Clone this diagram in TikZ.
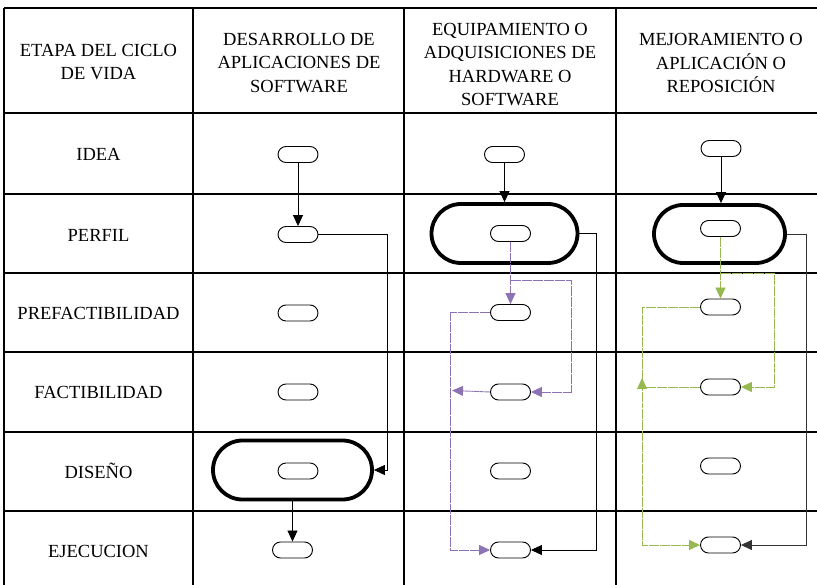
\documentclass[tikz,border=0pt]{standalone}
\usepackage{fontspec}
\setmainfont{Liberation Serif}
\usetikzlibrary{arrows.meta,shapes.misc}

\begin{document}
\begin{tikzpicture}[x=1pt,y=-1pt,
  cell/.style={font=\fontsize{18.5}{23.3}\selectfont, align=center, inner sep=0pt}, % Text of the table
  term/.style={draw, rounded rectangle, minimum width=40pt, minimum height=16pt, inner sep=0pt, line width=0.9pt}, % Small terminator
  bigTerm/.style={draw, rounded rectangle, line width=3.8pt, inner sep=0pt}, % Thick terminator of the active stage
  gridLine/.style={line width=1.4pt},
  flow/.style={-{Triangle[length=11pt,width=10pt]}, line width=0.8pt},
  purpleFlow/.style={flow, draw=flowPurple, line width=0.9pt, dash pattern=on 5pt off 0.5pt},
  greenFlow/.style={flow, draw=flowGreen, line width=0.9pt, dash pattern=on 5pt off 0.5pt}
]

% Define colors for the connectors
\definecolor{flowPurple}{RGB}{140,115,180} % Purple for hardware / software
\definecolor{flowGreen}{RGB}{150,185,80}   % Green for improvement

\useasboundingbox (0,0) rectangle (817,585);

% Grid of the table
\foreach \y in {8,113,194,273,352,432,511}
  \draw[gridLine] (4,\y) -- (817,\y);
\foreach \x in {4,193,404,616}
  \draw[gridLine] (\x,8) -- (\x,585);

% Header row
\node[cell] (hStage) at (98.5,62)  {ETAPA DEL CICLO\\DE VIDA};
\node[cell] (hSoft)  at (299,63)   {DESARROLLO DE\\APLICACIONES DE\\SOFTWARE};
\node[cell] (hHard)  at (510,64.5) {EQUIPAMIENTO O\\ADQUISICIONES DE\\HARDWARE O\\SOFTWARE};
\node[cell] (hImpr)  at (721,63)   {MEJORAMIENTO O\\APLICACIÓN O\\REPOSICIÓN};

% Stage names
\node[cell] (rIdea) at (98.5,154) {IDEA};
\node[cell] (rPerf) at (98.5,235) {PERFIL};
\node[cell] (rPref) at (98.5,313) {PREFACTIBILIDAD};
\node[cell] (rFact) at (98.5,392) {FACTIBILIDAD};
\node[cell] (rDise) at (98.5,471) {DISEÑO};
\node[cell] (rEjec) at (98.5,551) {EJECUCION};

% Column 1: software development
\node[term] (aIdea) at (298,154.5) {};
\node[term] (aPerf) at (298,234.5) {};
\node[term] (aPref) at (298,313) {};
\node[term] (aFact) at (298,392) {};
\node[bigTerm, minimum width=159pt, minimum height=59pt] (aBig) at (292.5,470) {};
\node[term] (aDise) at (298,471) {};
\node[term] (aEjec) at (292.5,550) {};

\draw[flow] (aIdea.south) -- (aPerf.north);
\draw[flow] (aPerf.east) -- ++(69,0) |- (aBig.east);
\draw[flow] (aBig.south) -- (aEjec.north);

% Column 2: equipment or acquisitions
\node[term] (bIdea) at (504.5,154.5) {};
\node[bigTerm, minimum width=146pt, minimum height=59pt] (bBig) at (504.5,233.5) {};
\node[term] (bPerf) at (510.5,233.5) {};
\node[term] (bPref) at (510.5,312.5) {};
\node[term] (bFact) at (510.5,392) {};
\node[term] (bDise) at (510.5,471) {};
\node[term] (bEjec) at (510.5,550) {};

\draw[flow] (bIdea.south) -- (bBig.north);
\draw[flow] (bBig.east) -- ++(17,0) |- (bEjec.east);
\draw[purpleFlow] (bPerf.south) -- (bPref.north);
\draw[purpleFlow] (bPerf.south) ++(0,39) -- ++(61,0) |- (bFact.east);
\draw[purpleFlow] (bPref.west) -- ++(-40,0) |- (bEjec.west);
\draw[purpleFlow] (bFact.west) -- ++(-38,-1.5);

% Column 3: improvement or replacement
\node[term] (cIdea) at (721,148.5) {};
\node[bigTerm, minimum width=131pt, minimum height=58pt] (cBig) at (719.5,234) {};
\node[term] (cPerf) at (720.5,228.5) {};
\node[term] (cPref) at (720.5,307) {};
\node[term] (cFact) at (720.5,387) {};
\node[term] (cDise) at (720.5,466) {};
\node[term] (cEjec) at (720.5,545) {};

\draw[flow] (cIdea.south) -- (cIdea.south |- cBig.north);
\draw[flow, draw=black!80] (cBig.east) -- ++(19,0) |- (cEjec.east);
\draw[greenFlow] (cPerf.south) -- (cPref.north);
\draw[greenFlow] (cPerf.south) ++(0,36.5) -- ++(53.5,0) |- (cFact.east);
\draw[greenFlow] (cPref.west) -- ++(-58,0) |- (cEjec.west);
\draw[greenFlow] (cFact.west) -- ++(-58,0) -- ++(0,-9);

\end{tikzpicture}
\end{document}
